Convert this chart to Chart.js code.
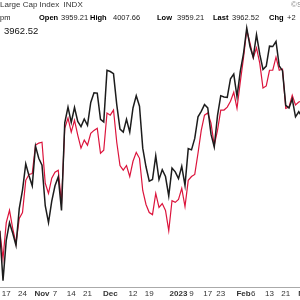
<!DOCTYPE html>
<html>
<head>
<meta charset="utf-8">
<script src="https://cdn.jsdelivr.net/npm/chart.js@4/dist/chart.umd.min.js"></script>
<style>
  html, body { margin: 0; padding: 0; background: #fff; }
  #wrap { position: relative; width: 300px; height: 300px; overflow: hidden; font-family: 'Liberation Sans', Arial, sans-serif; }
  #chart { position: absolute; left: 0; top: 0; }
  .t { position: absolute; white-space: nowrap; line-height: 10px; color: #222; }
  .l2 { top: 13px; font-size: 7.5px; }
  .b { font-weight: bold; color: #000; }
</style>
</head>
<body>
<div id="wrap">
  <canvas id="chart" width="300" height="300"></canvas>
  <div class="t" style="left:0;top:0;font-size:8px;color:#333">Large Cap Index&nbsp;&nbsp;INDX</div>
  <div class="t" style="left:291px;top:0;font-size:8px;color:#888">©S</div>
  <div class="t l2" style="left:0">pm</div>
  <div class="t l2 b" style="left:39px">Open</div>
  <div class="t l2" style="left:61px">3959.21</div>
  <div class="t l2 b" style="left:90px">High</div>
  <div class="t l2" style="left:113px">4007.66</div>
  <div class="t l2 b" style="left:157px">Low</div>
  <div class="t l2" style="left:177px">3959.21</div>
  <div class="t l2 b" style="left:213px">Last</div>
  <div class="t l2" style="left:232px">3962.52</div>
  <div class="t l2 b" style="left:269px">Chg</div>
  <div class="t l2" style="left:287px">+2</div>
  <div class="t" style="left:4px;top:25px;font-size:9.5px;line-height:12px;color:#111">3962.52</div>
</div>
<script>
// trading days shown on the chart
const dates = [
  '2022-10-13','2022-10-14','2022-10-17','2022-10-18','2022-10-19','2022-10-20','2022-10-21',
  '2022-10-24','2022-10-25','2022-10-26','2022-10-27','2022-10-28','2022-10-31',
  '2022-11-01','2022-11-02','2022-11-03','2022-11-04','2022-11-07','2022-11-08','2022-11-09',
  '2022-11-10','2022-11-11','2022-11-14','2022-11-15','2022-11-16','2022-11-17','2022-11-18',
  '2022-11-21','2022-11-22','2022-11-23','2022-11-25','2022-11-28','2022-11-29','2022-11-30',
  '2022-12-01','2022-12-02','2022-12-05','2022-12-06','2022-12-07','2022-12-08','2022-12-09',
  '2022-12-12','2022-12-13','2022-12-14','2022-12-15','2022-12-16','2022-12-19','2022-12-20',
  '2022-12-21','2022-12-22','2022-12-23','2022-12-27','2022-12-28','2022-12-29','2022-12-30',
  '2023-01-03','2023-01-04','2023-01-05','2023-01-06','2023-01-09','2023-01-10','2023-01-11',
  '2023-01-12','2023-01-13','2023-01-17','2023-01-18','2023-01-19','2023-01-20','2023-01-23',
  '2023-01-24','2023-01-25','2023-01-26','2023-01-27','2023-01-30','2023-01-31',
  '2023-02-01','2023-02-02','2023-02-03','2023-02-06','2023-02-07','2023-02-08','2023-02-09',
  '2023-02-10','2023-02-13','2023-02-14','2023-02-15','2023-02-16','2023-02-17','2023-02-21',
  '2023-02-22','2023-02-23','2023-02-24','2023-02-27','2023-02-28','2023-03-01'
];

// black line (index close)
const indexClose = [
  3700, 3583, 3678, 3720, 3695, 3666, 3753,
  3797, 3859, 3831, 3807, 3901, 3872,
  3856, 3760, 3720, 3771, 3807, 3828, 3749,
  3956, 3993, 3957, 3992, 3959, 3947, 3965,
  3950, 4004, 4027, 4026, 3964, 3958, 4080,
  4077, 4072, 3999, 3941, 3934, 3964, 3934,
  3991, 4020, 3995, 3896, 3852, 3818, 3822,
  3878, 3822, 3845, 3829, 3783, 3849, 3840,
  3824, 3853, 3808, 3895, 3892, 3919, 3970,
  3983, 3999, 3991, 3929, 3899, 3973, 4020,
  4017, 4016, 4060, 4071, 4018, 4077,
  4119, 4180, 4136, 4111, 4164, 4118, 4082,
  4090, 4137, 4136, 4148, 4090, 4079, 3997,
  3991, 4012, 3970, 3982, 3970
];

// red overlay line, read on the same price scale
const overlayClose = [
  3702, 3635, 3720, 3749, 3706, 3671, 3730,
  3744, 3820, 3834, 3836, 3903, 3908,
  3910, 3813, 3789, 3825, 3839, 3844, 3765,
  3943, 3967, 3934, 3962, 3927, 3896, 3915,
  3903, 3931, 3938, 3943, 3884, 3891, 3979,
  3974, 3986, 3910, 3855, 3844, 3855, 3829,
  3865, 3886, 3872, 3796, 3763, 3744, 3739,
  3789, 3756, 3765, 3749, 3701, 3772, 3768,
  3775, 3801, 3758, 3820, 3829, 3834, 3884,
  3938, 3974, 3979, 3955, 3903, 3938, 3986,
  3986, 3993, 4007, 4028, 3990, 4052,
  4109, 4175, 4144, 4109, 4133, 4097, 4038,
  4043, 4080, 4080, 4111, 4080, 4083, 3990,
  3993, 4021, 3998, 4005, 4007
];

const tickDates = [
  '2022-10-17','2022-10-24','2022-11-01','2022-11-07','2022-11-14','2022-11-21',
  '2022-12-01','2022-12-12','2022-12-19','2023-01-03','2023-01-09','2023-01-17',
  '2023-01-23','2023-02-01','2023-02-06','2023-02-13','2023-02-21','2023-03-01'
];
const tickLabels = ['17','24','Nov','7','14','21','Dec','12','19','2023','9','17','23','Feb','6','13','21','Mar'];
const boldTicks = ['Nov','Dec','2023','Feb','Mar'];

const tickIdx = tickDates.map(d => dates.indexOf(d));
const toPoints = arr => arr.map((v, i) => ({ x: i, y: v }));

new Chart(document.getElementById('chart'), {
  type: 'line',
  data: {
    datasets: [
      { data: toPoints(indexClose), borderColor: '#1c1c1c', borderWidth: 1.5 },
      { data: toPoints(overlayClose), borderColor: '#dc143c', borderWidth: 1.2 }
    ]
  },
  options: {
    responsive: false,
    animation: false,
    layout: { padding: 0, autoPadding: false },
    elements: { point: { radius: 0 }, line: { tension: 0 } },
    plugins: { legend: { display: false }, tooltip: { enabled: false } },
    scales: {
      y: { display: false, min: 3568, max: 4246 },
      x: {
        type: 'linear',
        min: 0.077,
        max: 92.385,
        grid: { display: false, drawTicks: false },
        border: { display: true, color: '#aaa', dash: [1, 2], width: 1 },
        afterBuildTicks: axis => { axis.ticks = tickIdx.map(v => ({ value: v })); },
        afterFit: axis => { axis.height = 13; axis.paddingLeft = 0; axis.paddingRight = 0; },
        ticks: {
          autoSkip: false,
          maxRotation: 0,
          padding: 2,
          color: '#333',
          callback: v => tickLabels[tickIdx.indexOf(v)],
          font: ctx => ({
            family: "'Liberation Sans', Arial, sans-serif",
            size: 8,
            weight: ctx.tick && boldTicks.includes(ctx.tick.label) ? 'bold' : 'normal'
          })
        }
      }
    }
  }
});
</script>
</body>
</html>
